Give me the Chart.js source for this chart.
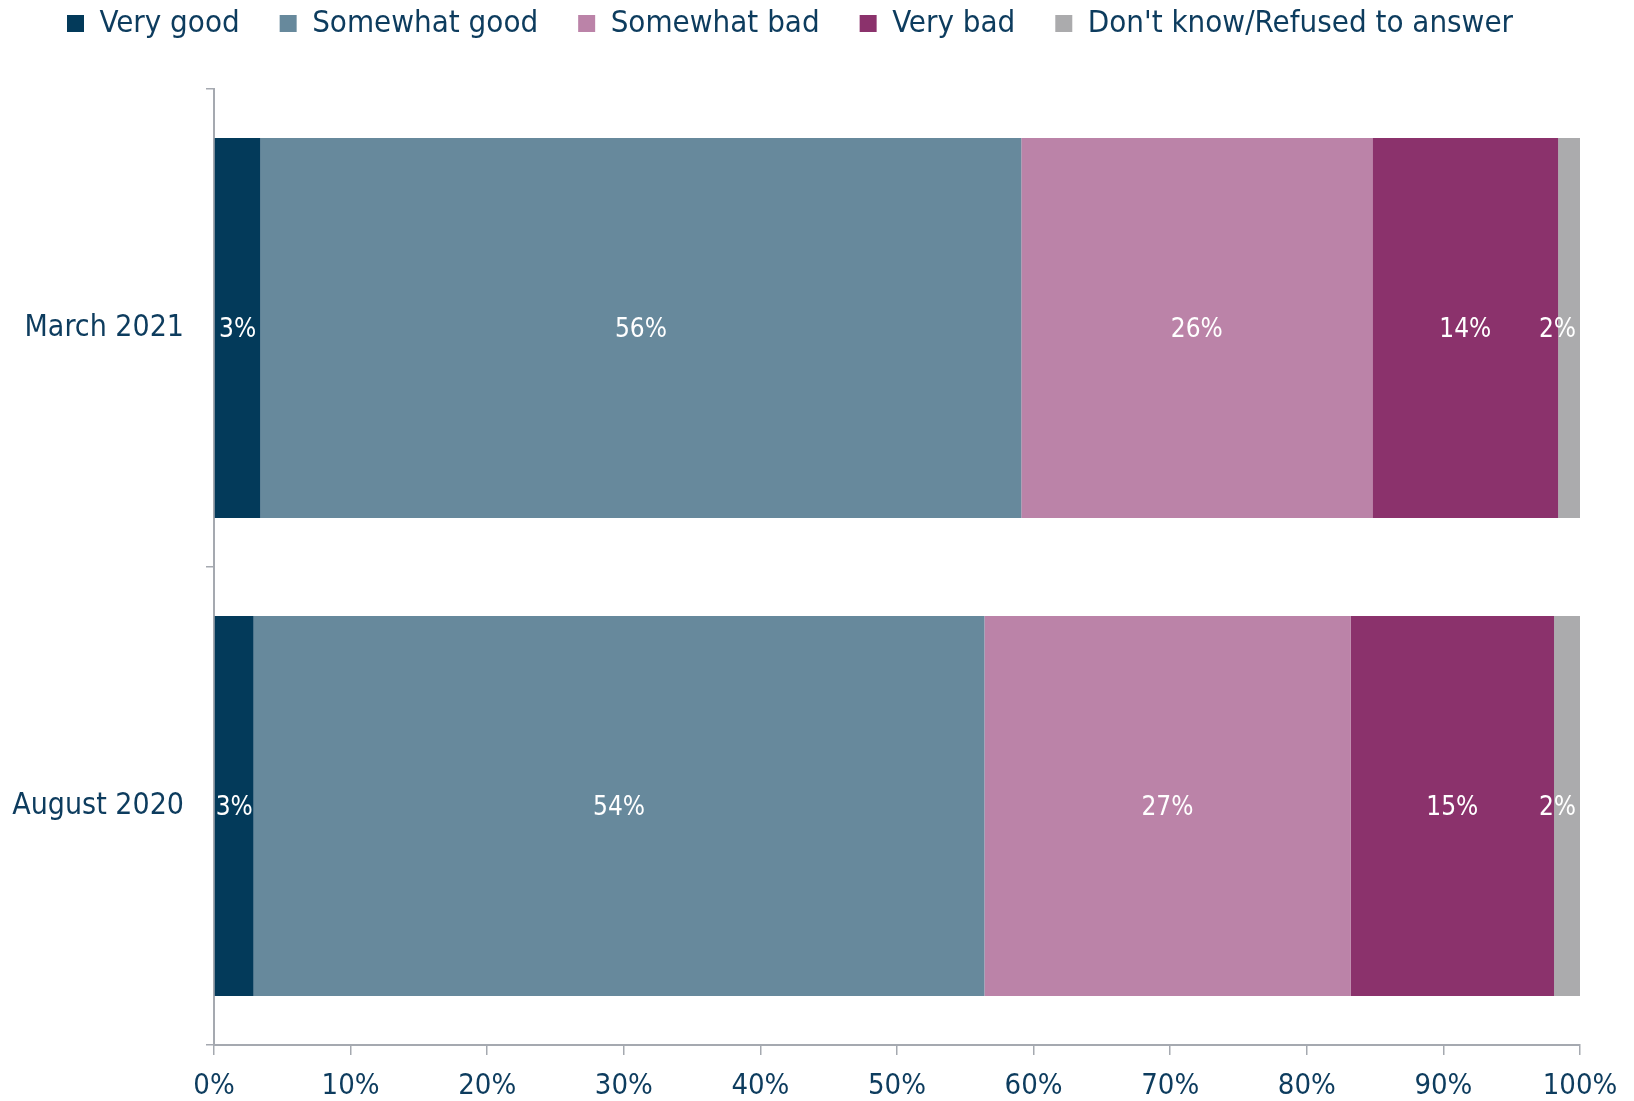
<!DOCTYPE html>
<html>
<head>
<meta charset="utf-8">
<script src="https://cdn.jsdelivr.net/npm/chart.js@4.4.1/dist/chart.umd.min.js"></script>
<style>
  html, body { margin: 0; padding: 0; background: #fff; }
  #wrap { width: 1634px; height: 1101px; }
</style>
</head>
<body>
<div id="wrap"><canvas id="opinionChart"></canvas></div>
<script>
const categories = ['March 2021', 'August 2020'];
const seriesNames = ['Very good', 'Somewhat good', 'Somewhat bad', 'Very bad', "Don't know/Refused to answer"];
const veryGood = [3.4, 2.9];
const somewhatGood = [55.7, 53.5];
const somewhatBad = [25.7, 26.8];
const veryBad = [13.6, 14.9];
const dontKnow = [1.6, 1.9];
const shownLabels = [[3, 56, 26, 14, 2], [3, 54, 27, 15, 2]];
const xTicks = [0, 10, 20, 30, 40, 50, 60, 70, 80, 90, 100];

const colors = ['#033a5a', '#67899c', '#bb83a8', '#8b326c', '#ababad'];
const textColor = '#0d3c5e';
const fontFamily = "'DejaVu Sans Condensed', 'Liberation Sans Narrow', 'DejaVu Sans', sans-serif";

const seriesData = [veryGood, somewhatGood, somewhatBad, veryBad, dontKnow];

// white % labels in the middle of each segment, kept inside the plot on the right
const barLabels = {
    id: 'barLabels',
    afterDatasetsDraw(chart) {
        const ctx = chart.ctx;
        const right = chart.chartArea.right;
        ctx.save();
        ctx.fillStyle = '#ffffff';
        ctx.font = '26px ' + fontFamily;
        ctx.textAlign = 'center';
        ctx.textBaseline = 'middle';
        chart.data.datasets.forEach((ds, di) => {
            chart.getDatasetMeta(di).data.forEach((bar, i) => {
                const txt = shownLabels[i][di] + '%';
                const half = ctx.measureText(txt).width / 2;
                let cx = (bar.x + bar.base) / 2;
                if (cx + half > right - 4) cx = right - 4 - half;
                ctx.fillText(txt, cx, bar.y + 2);
            });
        });
        ctx.restore();
    }
};

const legendHeight = {
    id: 'legendHeight',
    beforeInit(chart) {
        const origFit = chart.legend.fit;
        chart.legend.fit = function () {
            origFit.bind(chart.legend)();
            this.height = 121;
        };
    }
};

new Chart(document.getElementById('opinionChart'), {
    type: 'bar',
    data: {
        labels: categories,
        datasets: seriesNames.map((name, i) => ({
            label: name,
            data: seriesData[i],
            backgroundColor: colors[i],
            barPercentage: 0.795,
            categoryPercentage: 1.0
        }))
    },
    options: {
        indexAxis: 'y',
        responsive: true,
        maintainAspectRatio: false,
        animation: false,
        layout: { padding: { left: 0, right: 54, top: -32, bottom: 0 } },
        plugins: {
            legend: {
                position: 'top',
                labels: {
                    color: textColor,
                    font: { family: fontFamily, size: 31 },
                    boxWidth: 17,
                    boxHeight: 17,
                    padding: 40
                }
            },
            tooltip: { enabled: false }
        },
        scales: {
            x: {
                stacked: true,
                min: 0,
                max: 100,
                afterBuildTicks(scale) {
                    scale.ticks = xTicks.map(v => ({ value: v }));
                },
                afterFit(scale) { scale.height = 56; },
                border: { color: '#a5a9b0', width: 2 },
                grid: { drawOnChartArea: false, color: '#a5a9b0', tickLength: 10, lineWidth: 1.5 },
                ticks: {
                    color: textColor,
                    font: { family: fontFamily, size: 29 },
                    padding: 14,
                    maxRotation: 0,
                    callback: v => v + '%'
                }
            },
            y: {
                stacked: true,
                afterFit(scale) { scale.width = 214; },
                border: { color: '#a5a9b0', width: 2 },
                grid: { drawOnChartArea: false, offset: true, color: '#a5a9b0', tickLength: 8, lineWidth: 1.5 },
                ticks: {
                    color: textColor,
                    font: { family: fontFamily, size: 30 },
                    padding: 22
                }
            }
        }
    },
    plugins: [barLabels, legendHeight]
});
</script>
</body>
</html>
